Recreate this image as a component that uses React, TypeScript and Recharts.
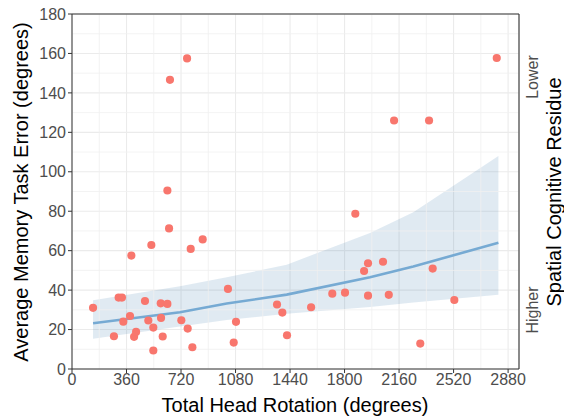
import React from 'react';
import { ComposedChart, Scatter, Line, Area, XAxis, YAxis, ZAxis, CartesianGrid, ReferenceLine } from 'recharts';

const pointX = [139, 277, 308, 330, 339, 383, 392, 410, 423, 482, 504, 524, 537, 537, 586, 588, 599, 630, 630, 641, 647, 722, 760, 764, 784, 795, 863, 1030, 1068, 1083, 1354, 1389, 1420, 1579, 1719, 1803, 1871, 1929, 1955, 1955, 2054, 2092, 2127, 2300, 2358, 2382, 2525, 2805];
const pointY = [31, 16.6, 36.2, 36.2, 24, 26.9, 57.5, 16.3, 18.8, 34.5, 24.6, 62.9, 21, 9.4, 33.3, 25.9, 16.5, 90.5, 33, 71.3, 146.6, 24.7, 157.5, 20.5, 60.9, 11, 65.7, 40.6, 13.4, 23.9, 32.7, 28.6, 17.1, 31.3, 38.2, 38.7, 78.7, 49.7, 53.6, 37.2, 54.4, 37.6, 126, 12.9, 126, 50.9, 35, 157.7];

const fitX = [139, 713, 1022, 1418, 1968, 2254, 2816];
const fitY = [23.2, 28.8, 33.2, 37.7, 46.5, 52, 64];
const fitLow = [15.3, 21.5, 24.8, 28, 31.5, 33.7, 37.7];
const fitHigh = [34.8, 42, 46.5, 52.9, 69, 79.5, 108];

const xTicks = [0, 360, 720, 1080, 1440, 1800, 2160, 2520, 2880];
const yTicks = [0, 20, 40, 60, 80, 100, 120, 140, 160, 180];
const xMinor = [180, 540, 900, 1260, 1620, 1980, 2340, 2700];
const yMinor = [10, 30, 50, 70, 90, 110, 130, 150, 170];

const xTitle = 'Total Head Rotation (degrees)';
const yTitle = 'Average Memory Task Error (degrees)';
const rightTitle = 'Spatial Cognitive Residue';
const rightTop = 'Lower';
const rightBottom = 'Higher';

const points = pointX.map((x, i) => ({ x, y: pointY[i] }));
const fit = fitX.map((x, i) => ({ x, y: fitY[i], band: [fitLow[i], fitHigh[i]] }));

export default function App() {
  return (
    <div style={{ position: 'absolute', left: 0, top: 0, fontFamily: '"Liberation Sans", Arial, sans-serif' }}>
      <ComposedChart width={564} height={420} margin={{ top: 14, right: 45, bottom: 0, left: 12 }}>
        <CartesianGrid stroke="#ebebeb" strokeWidth={1.1} />
        {xMinor.map((v) => (
          <ReferenceLine key={'xm' + v} x={v} stroke="#f0f0f0" strokeWidth={0.8} />
        ))}
        {yMinor.map((v) => (
          <ReferenceLine key={'ym' + v} y={v} stroke="#f0f0f0" strokeWidth={0.8} />
        ))}
        <XAxis
          type="number"
          dataKey="x"
          domain={[0, 2952]}
          ticks={xTicks}
          allowDataOverflow
          height={51}
          tickSize={4}
          tickMargin={1}
          stroke="#333333"
          tick={{ fill: '#4d4d4d', fontSize: 16 }}
          interval={0}
        />
        <YAxis
          type="number"
          dataKey="y"
          domain={[0, 180]}
          ticks={yTicks}
          allowDataOverflow
          width={60}
          tickSize={4}
          tickMargin={2}
          stroke="#333333"
          tick={{ fill: '#4d4d4d', fontSize: 16 }}
          interval={0}
        />
        <ZAxis range={[52, 52]} />
        <Scatter data={points} dataKey="y" fill="#F8766D" isAnimationActive={false} />
        <Area data={fit} dataKey="band" type="linear" stroke="none" fill="#4682b4" fillOpacity={0.17} isAnimationActive={false} />
        <Line data={fit} dataKey="y" type="linear" stroke="#76aad3" strokeWidth={2.6} dot={false} isAnimationActive={false} />
        <ReferenceLine y={180} stroke="#333333" strokeWidth={1.1} />
        <ReferenceLine x={2952} stroke="#333333" strokeWidth={1.1} />
        <text x={295} y={405} textAnchor="middle" dy="0.35em" fontSize={20} fill="#000">{xTitle}</text>
        <text x={21} y={192} textAnchor="middle" dy="0.35em" fontSize={20} fill="#000" transform="rotate(-90 21 192)">{yTitle}</text>
        <text x={554} y={192} textAnchor="middle" dy="0.35em" fontSize={20} fill="#000" transform="rotate(-90 554 192)">{rightTitle}</text>
        <text x={532} y={77} textAnchor="middle" dy="0.35em" fontSize={16} fill="#4d4d4d" transform="rotate(-90 532 77)">{rightTop}</text>
        <text x={532} y={310} textAnchor="middle" dy="0.35em" fontSize={16} fill="#4d4d4d" transform="rotate(-90 532 310)">{rightBottom}</text>
      </ComposedChart>
    </div>
  );
}
